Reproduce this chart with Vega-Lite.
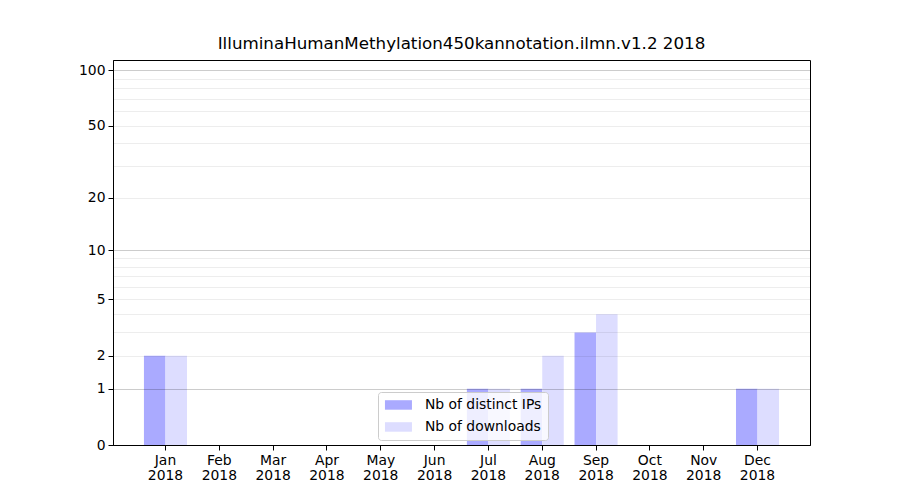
{
  "$schema": "https://vega.github.io/schema/vega-lite/v6.json",
  "autosize": "none",
  "width": 697,
  "height": 385,
  "padding": {"left": 113, "top": 60, "right": 90, "bottom": 55},
  "background": "white",
  "title": {"text": "IlluminaHumanMethylation450kannotation.ilmn.v1.2 2018", "font": "DejaVu Sans", "fontSize": 16.7, "fontWeight": "normal", "color": "black", "offset": 7},
  "config": {
    "view": {"stroke": "black", "strokeWidth": 1},
    "font": "DejaVu Sans"
  },
  "data": {"values": [
    {"month": "Jan 2018", "series": "Nb of distinct IPs", "value": 2},
    {"month": "Jan 2018", "series": "Nb of downloads", "value": 2},
    {"month": "Feb 2018", "series": "Nb of distinct IPs", "value": 0},
    {"month": "Feb 2018", "series": "Nb of downloads", "value": 0},
    {"month": "Mar 2018", "series": "Nb of distinct IPs", "value": 0},
    {"month": "Mar 2018", "series": "Nb of downloads", "value": 0},
    {"month": "Apr 2018", "series": "Nb of distinct IPs", "value": 0},
    {"month": "Apr 2018", "series": "Nb of downloads", "value": 0},
    {"month": "May 2018", "series": "Nb of distinct IPs", "value": 0},
    {"month": "May 2018", "series": "Nb of downloads", "value": 0},
    {"month": "Jun 2018", "series": "Nb of distinct IPs", "value": 0},
    {"month": "Jun 2018", "series": "Nb of downloads", "value": 0},
    {"month": "Jul 2018", "series": "Nb of distinct IPs", "value": 1},
    {"month": "Jul 2018", "series": "Nb of downloads", "value": 1},
    {"month": "Aug 2018", "series": "Nb of distinct IPs", "value": 1},
    {"month": "Aug 2018", "series": "Nb of downloads", "value": 2},
    {"month": "Sep 2018", "series": "Nb of distinct IPs", "value": 3},
    {"month": "Sep 2018", "series": "Nb of downloads", "value": 4},
    {"month": "Oct 2018", "series": "Nb of distinct IPs", "value": 0},
    {"month": "Oct 2018", "series": "Nb of downloads", "value": 0},
    {"month": "Nov 2018", "series": "Nb of distinct IPs", "value": 0},
    {"month": "Nov 2018", "series": "Nb of downloads", "value": 0},
    {"month": "Dec 2018", "series": "Nb of distinct IPs", "value": 1},
    {"month": "Dec 2018", "series": "Nb of downloads", "value": 1}
  ]},
  "mark": {"type": "bar"},
  "encoding": {
    "x": {
      "field": "month", "type": "nominal",
      "sort": ["Jan 2018","Feb 2018","Mar 2018","Apr 2018","May 2018","Jun 2018","Jul 2018","Aug 2018","Sep 2018","Oct 2018","Nov 2018","Dec 2018"],
      "scale": {"paddingInner": 0.2, "paddingOuter": 0.575},
      "axis": {"title": null, "labelAngle": 0, "labelExpr": "split(datum.value, ' ')", "labelFontSize": 13.9, "labelColor": "black", "domainColor": "black", "tickColor": "black", "tickSize": 5, "labelPadding": 3, "labelLineHeight": 15, "grid": false}
    },
    "xOffset": {"field": "series", "type": "nominal", "scale": {"paddingInner": 0, "paddingOuter": 0}},
    "y": {
      "field": "value", "type": "quantitative",
      "scale": {"type": "symlog", "constant": 1, "domain": [0, 113.5], "nice": false, "zero": false},
      "axis": {
        "title": null,
        "zindex": 1,
        "values": [0,1,2,3,4,5,6,7,8,9,10,20,30,40,50,60,70,80,90,100],
        "labelExpr": "indexof([0,1,2,5,10,20,50,100], datum.value) >= 0 ? datum.value : ''",
        "labelFontSize": 13.9, "labelColor": "black", "labelPadding": 3,
        "domainColor": "black", "tickColor": "black", "tickSize": 5,
        "tickOpacity": {"condition": {"test": "indexof([0,1,2,5,10,20,50,100], datum.value) >= 0", "value": 1}, "value": 0},
        "grid": true,
        "gridColor": "black",
        "gridOpacity": {"condition": {"test": "datum.value == 1 || datum.value == 10 || datum.value == 100", "value": 0.2}, "value": 0.07},
        "gridWidth": 1
      }
    },
    "color": {
      "field": "series", "type": "nominal",
      "scale": {"domain": ["Nb of distinct IPs", "Nb of downloads"], "range": ["#aaaaff", "#ddddff"]},
      "legend": {
        "title": null, "orient": "none", "legendX": 265, "legendY": 332,
        "symbolType": "M-1,-0.79H3.5V0.79H-1Z", "symbolSize": 144, "symbolStrokeWidth": 0, "symbolOpacity": 1,
        "labelFontSize": 13.9, "labelColor": "black", "labelOffset": 27,
        "fillColor": "rgba(255,255,255,0.8)", "strokeColor": "#cccccc", "cornerRadius": 3,
        "padding": 6, "rowPadding": 7
      }
    }
  }
}
